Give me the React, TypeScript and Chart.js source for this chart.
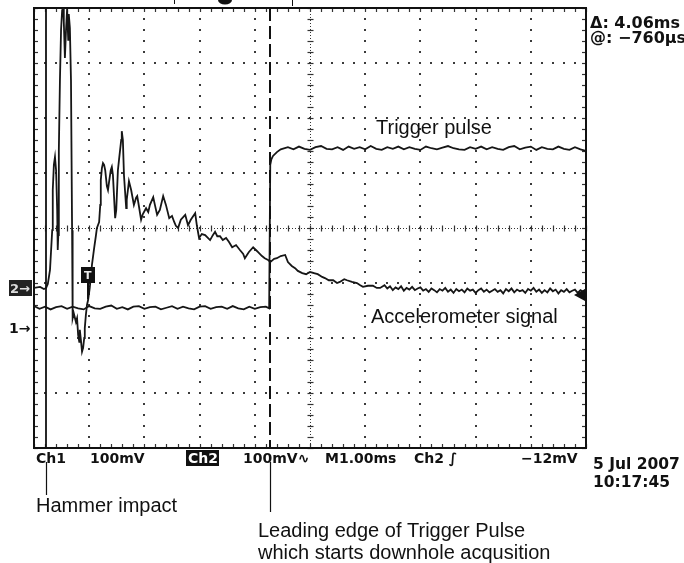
import React, { useEffect, useRef } from "react";
import { Chart, registerables } from "chart.js";
Chart.register(...registerables);

// Time axis in ms (M1.00ms per division, 10 divisions), voltage axis in mV (100mV/div, 8 divisions)
const xMin = 0;
const xMax = 10;
const yMin = -400;
const yMax = 400;

// Channel 1: accelerometer signal
const accelT = [
  0.0, 0.11, 0.18, 0.22, 0.25, 0.29, 0.33, 0.34, 0.36, 0.38, 0.4, 0.42, 0.43, 0.44, 0.45, 0.47, 0.49, 0.51, 0.53, 0.54,
  0.56, 0.58, 0.6, 0.62, 0.63, 0.65, 0.67, 0.69, 0.7, 0.72, 0.76, 0.78, 0.8, 0.82, 0.83, 0.85, 0.87, 0.89, 0.91, 0.92,
  0.94, 0.96, 0.98, 1.01, 1.05, 1.09, 1.12, 1.14, 1.18, 1.2, 1.21, 1.23, 1.25, 1.27, 1.29, 1.32, 1.34, 1.36, 1.39, 1.41,
  1.43, 1.47, 1.49, 1.52, 1.54, 1.58, 1.59, 1.61, 1.63, 1.67, 1.68, 1.72, 1.76, 1.81, 1.85, 1.87, 1.9, 1.94, 1.97, 2.03,
  2.07, 2.1, 2.16, 2.19, 2.23, 2.28, 2.34, 2.39, 2.45, 2.5, 2.54, 2.57, 2.61, 2.66, 2.74, 2.79, 2.84, 2.92, 2.95, 2.99,
  3.04, 3.1, 3.15, 3.19, 3.24, 3.28, 3.32, 3.37, 3.42, 3.48, 3.53, 3.59, 3.66, 3.73, 3.79, 3.82, 3.89, 3.97, 4.02, 4.06,
  4.13, 4.18, 4.24, 4.28, 4.35, 4.4, 4.47, 4.55, 4.6, 4.67, 4.73, 4.78, 4.86, 4.93, 5.0, 5.07, 5.14, 5.22, 5.27, 5.34,
  5.42, 5.49, 5.54, 5.62, 5.67, 5.76, 5.85, 5.91, 5.96, 6.05, 6.14, 6.21, 6.27, 6.35, 6.4, 6.45, 6.5, 6.55, 6.6, 6.65,
  6.7, 6.75, 6.8, 6.85, 6.9, 6.95, 7.0, 7.05, 7.1, 7.15, 7.2, 7.25, 7.3, 7.35, 7.4, 7.45, 7.5, 7.55, 7.6, 7.65,
  7.7, 7.75, 7.8, 7.85, 7.9, 7.95, 8.0, 8.05, 8.1, 8.15, 8.2, 8.25, 8.3, 8.35, 8.4, 8.45, 8.5, 8.55, 8.6, 8.65,
  8.7, 8.75, 8.8, 8.85, 8.9, 8.95, 9.0, 9.05, 9.1, 9.15, 9.2, 9.25, 9.3, 9.35, 9.4, 9.45, 9.5, 9.55, 9.6, 9.65,
  9.7, 9.75, 9.8, 9.85, 9.9, 9.95, 10.0,
];
const accelV = [
  -109, -107, -111, -109, -102, -76, -4, 69, 115, 129, 105, 33, -40, -13, 142, 269, 360, 396, 400, 375,
  309, 360, 398, 342, 389, 364, 269, -4, -164, -155, -171, -164, -195, -207, -185, -204, -225, -218, -200, -182,
  -158, -140, -131, -109, -67, -36, -15, 0, 11, 42, 87, 109, 118, 115, 105, 76, 69, 84, 105, 111,
  96, 18, 33, 105, 124, 160, 176, 160, 96, 36, 51, 85, 69, 42, 55, 58, 40, 15, 25, 36,
  29, 42, 56, 42, 24, 33, 58, 42, 18, 22, 11, 4, 0, 15, 24, 5, 15, 27, 5, -18,
  -11, -13, -18, -22, -13, -7, -15, -15, -22, -18, -25, -35, -31, -40, -47, -55, -44, -35, -40, -44,
  -51, -55, -58, -62, -56, -55, -51, -49, -62, -69, -73, -78, -82, -84, -80, -82, -84, -89, -91, -95,
  -95, -100, -98, -93, -95, -98, -100, -104, -107, -105, -105, -109, -109, -104, -110, -106, -113, -108, -111, -106,
  -114, -109, -112, -107, -113, -110, -108, -114, -111, -116, -110, -113, -117, -111, -114, -109, -116, -112, -118, -111,
  -115, -112, -117, -110, -114, -112, -118, -113, -110, -116, -112, -117, -114, -111, -116, -113, -119, -111, -115, -110,
  -117, -112, -115, -113, -118, -111, -114, -109, -116, -112, -118, -113, -117, -110, -115, -112, -119, -113, -116, -111,
  -117, -114, -112, -118, -113, -116, -112,
];

// Channel 2: trigger pulse
const trigT = [
  0.0, 0.1, 0.2, 0.3, 0.4, 0.5, 0.6, 0.7, 0.8, 0.9, 1.0, 1.1, 1.2, 1.3, 1.4, 1.5, 1.6, 1.7, 1.8, 1.9,
  2.0, 2.1, 2.2, 2.3, 2.4, 2.5, 2.6, 2.7, 2.8, 2.9, 3.0, 3.1, 3.2, 3.3, 3.4, 3.5, 3.6, 3.7, 3.8, 3.9,
  4.0, 4.1, 4.2, 4.26, 4.28, 4.3, 4.33, 4.4, 4.47, 4.6, 4.7, 4.8, 4.9, 5.0, 5.1, 5.2, 5.3, 5.4, 5.5, 5.6,
  5.7, 5.8, 5.9, 6.0, 6.1, 6.2, 6.3, 6.4, 6.5, 6.6, 6.7, 6.8, 6.9, 7.0, 7.1, 7.2, 7.3, 7.4, 7.5, 7.6,
  7.7, 7.8, 7.9, 8.0, 8.1, 8.2, 8.3, 8.4, 8.5, 8.6, 8.7, 8.8, 8.9, 9.0, 9.1, 9.2, 9.3, 9.4, 9.5, 9.6,
  9.7, 9.8, 9.9, 10.0,
];
const trigV = [
  -142, -147, -143, -148, -144, -142, -147, -143, -146, -148, -142, -146, -147, -143, -141, -147, -144, -148, -143, -142,
  -147, -144, -143, -148, -145, -142, -147, -143, -146, -148, -143, -142, -147, -144, -143, -147, -142, -146, -148, -143,
  -147, -144, -143, -146, 115, 125, 131, 138, 143, 147, 143, 148, 144, 142, 147, 149, 144, 143, 147, 142,
  148, 144, 147, 143, 149, 144, 142, 147, 144, 148, 143, 147, 144, 142, 148, 145, 143, 146, 149, 145,
  143, 142, 147, 144, 148, 143, 147, 144, 142, 147, 149, 143, 146, 148, 142, 147, 144, 143, 148, 144,
  142, 147, 143, 140,
];

// Cursor positions (ms)
const cursorTimes = [0.21, 4.27];

// Scope readouts and annotations
const cursorReadout = ["\u0394: 4.06ms", "@: \u2212760\u00b5s"];
const dateLines = ["5 Jul 2007", "10:17:45"];
const annotTrigger = "Trigger pulse";
const annotAccel = "Accelerometer signal";
const annotHammer = "Hammer impact";
const annotLeading = ["Leading edge of Trigger Pulse", "which starts downhole acqusition"];

export default function App() {
  const ref = useRef<HTMLCanvasElement>(null);

  useEffect(() => {
    const canvas = ref.current;
    if (!canvas) return;

    const line = (ctx: CanvasRenderingContext2D, x1: number, y1: number, x2: number, y2: number) => {
      ctx.beginPath();
      ctx.moveTo(x1, y1);
      ctx.lineTo(x2, y2);
      ctx.stroke();
    };

    const graticule = {
      id: "graticule",
      beforeDatasetsDraw(chart: any) {
        const { ctx, chartArea: a, scales } = chart;
        const xs = scales.x;
        const ys = scales.y;
        ctx.save();
        ctx.fillStyle = "#3a3a3a";
        // dotted division lines
        for (let i = 1; i < 10; i++) {
          if (i === 5) continue;
          const px = Math.round(xs.getPixelForValue(i));
          for (let k = 0; k <= 40; k++) {
            const py = Math.round(ys.getPixelForValue(yMin + k * 20));
            ctx.fillRect(px - 1, py - 1, 2, 2);
          }
        }
        for (let j = -300; j <= 300; j += 100) {
          if (j === 0) continue;
          const py = Math.round(ys.getPixelForValue(j));
          for (let k = 0; k <= 50; k++) {
            const px = Math.round(xs.getPixelForValue(k * 0.2));
            ctx.fillRect(px - 1, py - 1, 2, 2);
          }
        }
        // center cross lines
        const cx = Math.round(xs.getPixelForValue(5)) + 0.5;
        const cy = Math.round(ys.getPixelForValue(0)) + 0.5;
        ctx.strokeStyle = "#333";
        ctx.lineWidth = 1;
        ctx.setLineDash([1, 2]);
        line(ctx, cx, a.top, cx, a.bottom);
        line(ctx, a.left, cy, a.right, cy);
        ctx.setLineDash([]);
        ctx.lineWidth = 1.2;
        for (let k = 0; k <= 50; k++) {
          const px = Math.round(xs.getPixelForValue(k * 0.2)) + 0.5;
          line(ctx, px, cy - 3, px, cy + 3);
          line(ctx, px, a.top, px, a.top + 4);
          line(ctx, px, a.bottom - 4, px, a.bottom);
        }
        for (let k = 0; k <= 40; k++) {
          const py = Math.round(ys.getPixelForValue(yMin + k * 20)) + 0.5;
          line(ctx, cx - 3, py, cx + 3, py);
          line(ctx, a.left, py, a.left + 4, py);
          line(ctx, a.right - 4, py, a.right, py);
        }
        // frame
        ctx.strokeStyle = "#111";
        ctx.lineWidth = 2;
        ctx.strokeRect(a.left, a.top, a.right - a.left, a.bottom - a.top);
        ctx.restore();
      },
    };

    const overlay = {
      id: "overlay",
      afterDatasetsDraw(chart: any) {
        const { ctx, chartArea: a, scales } = chart;
        const xs = scales.x;
        const c1 = Math.round(xs.getPixelForValue(cursorTimes[0]));
        const c2 = Math.round(xs.getPixelForValue(cursorTimes[1]));
        ctx.save();
        ctx.strokeStyle = "#111";
        // cursors
        ctx.lineWidth = 1.8;
        line(ctx, c1, a.top, c1, a.bottom);
        ctx.setLineDash([13, 5]);
        ctx.lineWidth = 2;
        line(ctx, c2, a.top, c2, a.bottom);
        ctx.setLineDash([]);
        // leader lines
        ctx.lineWidth = 1.2;
        line(ctx, c1 + 0.5, 462, c1 + 0.5, 495);
        line(ctx, c2 + 0.5, 462, c2 + 0.5, 512);

        // channel markers
        ctx.fillStyle = "#222";
        ctx.fillRect(9, 280, 23, 16);
        ctx.fillStyle = "#ddd";
        ctx.font = "bold 13px 'DejaVu Sans'";
        ctx.textBaseline = "alphabetic";
        ctx.fillText("2\u2192", 10, 293);
        ctx.fillStyle = "#111";
        ctx.font = "bold 14px 'DejaVu Sans'";
        ctx.fillText("1\u2192", 9, 333);
        // T marker
        ctx.fillStyle = "#111";
        ctx.fillRect(81, 267, 14, 16);
        ctx.fillStyle = "#eee";
        ctx.font = "bold 11px 'DejaVu Sans'";
        ctx.fillText("T", 84, 279);
        ctx.lineWidth = 2;
        line(ctx, 88, 283, 88, 299);
        // right arrow marker
        ctx.fillStyle = "#111";
        ctx.beginPath();
        ctx.moveTo(574, 295);
        ctx.lineTo(585, 289);
        ctx.lineTo(585, 301);
        ctx.closePath();
        ctx.fill();
        // top header remnants
        ctx.beginPath();
        ctx.ellipse(225, 0, 7, 4.5, 0, 0, Math.PI * 2);
        ctx.fill();
        ctx.lineWidth = 1;
        line(ctx, 174.5, 0, 174.5, 4);
        line(ctx, 292.5, 0, 292.5, 6);

        // scope readouts
        ctx.fillStyle = "#111";
        ctx.font = "bold 14px 'DejaVu Sans'";
        ctx.fillText("Ch1", 36, 463);
        ctx.fillText("100mV", 90, 463);
        ctx.fillRect(186, 450, 33, 16);
        ctx.fillStyle = "#fff";
        ctx.fillText("Ch2", 188, 463);
        ctx.fillStyle = "#111";
        ctx.fillText("100mV\u223f", 243, 463);
        ctx.fillText("M1.00ms", 325, 463);
        ctx.fillText("Ch2 \u222b", 414, 463);
        ctx.fillText("\u221212mV", 521, 463);
        ctx.font = "bold 15.5px 'DejaVu Sans'";
        ctx.fillText(dateLines[0], 593, 469);
        ctx.fillText(dateLines[1], 593, 487);
        ctx.font = "bold 16px 'DejaVu Sans'";
        ctx.fillText(cursorReadout[0], 590, 28);
        ctx.fillText(cursorReadout[1], 590, 43);

        // annotations
        ctx.font = "20px 'Liberation Sans', Arial, sans-serif";
        ctx.fillText(annotTrigger, 376, 134);
        ctx.fillText(annotAccel, 371, 323);
        ctx.fillText(annotHammer, 36, 512);
        ctx.fillText(annotLeading[0], 258, 537);
        ctx.fillText(annotLeading[1], 258, 559);
        ctx.restore();
      },
    };

    const chart = new Chart(canvas, {
      type: "line",
      data: {
        datasets: [
          {
            label: "Accelerometer signal",
            data: accelT.map((t, i) => ({ x: t, y: accelV[i] })),
            borderColor: "#161616",
            borderWidth: 1.8,
            pointRadius: 0,
            tension: 0,
            fill: false,
          },
          {
            label: "Trigger pulse",
            data: trigT.map((t, i) => ({ x: t, y: trigV[i] })),
            borderColor: "#161616",
            borderWidth: 1.8,
            pointRadius: 0,
            tension: 0,
            fill: false,
          },
        ],
      },
      options: {
        animation: false,
        responsive: false,
        maintainAspectRatio: false,
        layout: { padding: { left: 34, top: 8, right: 98, bottom: 115 } },
        scales: {
          x: { type: "linear", min: xMin, max: xMax, display: false },
          y: { type: "linear", min: yMin, max: yMax, display: false },
        },
        plugins: { legend: { display: false }, tooltip: { enabled: false }, title: { display: false } },
      },
      plugins: [graticule, overlay],
    });
    return () => chart.destroy();
  }, []);

  return (
    <div style={{ position: "fixed", left: 0, top: 0, width: 684, height: 563, background: "#fff" }}>
      <canvas ref={ref} width={684} height={563} style={{ width: 684, height: 563, display: "block" }} />
    </div>
  );
}
